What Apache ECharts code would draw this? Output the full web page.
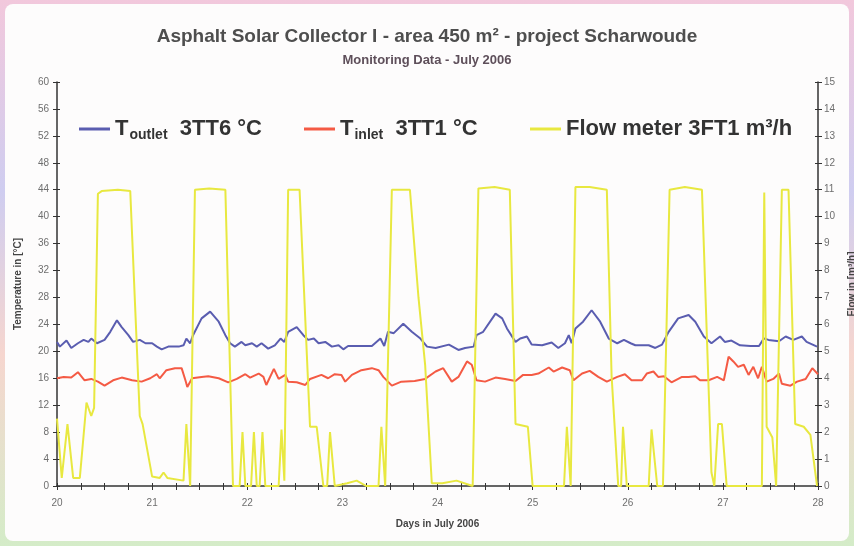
<!DOCTYPE html>
<html>
<head>
<meta charset="utf-8">
<title>Asphalt Solar Collector</title>
<script src="https://cdn.jsdelivr.net/npm/echarts@6/dist/echarts.min.js"></script>
<style>
  html, body { margin: 0; padding: 0; }
  body {
    width: 854px; height: 546px; overflow: hidden;
    background: linear-gradient(180deg, #f2c8dc 0%, #cfcdf0 35%, #f6d6cf 65%, #d4ecc8 100%);
  }
  #chart { width: 854px; height: 546px; }
</style>
</head>
<body>
<div id="chart"></div>
<script>
// legend labels (T with subscript is built in the formatter)
var seriesNames = ['T outlet 3TT6 °C', 'T inlet 3TT1 °C', 'Flow meter 3FT1 m³/h'];

// [day in July, °C]  - outlet temperature 3TT6
var tOutlet = [
  [20.00,21.4],[20.03,20.7],[20.10,21.6],[20.15,20.5],[20.22,21.2],[20.28,21.7],[20.33,21.4],[20.36,21.9],
  [20.42,21.2],[20.50,21.7],[20.56,22.9],[20.63,24.6],[20.68,23.6],[20.75,22.4],[20.80,21.4],[20.87,21.7],
  [20.93,21.2],[21.00,21.2],[21.05,20.7],[21.10,20.3],[21.17,20.7],[21.28,20.7],[21.33,20.9],[21.36,21.9],
  [21.40,21.2],[21.43,22.4],[21.52,24.9],[21.61,25.9],[21.70,24.4],[21.77,22.4],[21.82,21.2],[21.87,20.7],
  [21.94,21.4],[21.98,20.9],[22.05,21.2],[22.10,20.7],[22.15,21.2],[22.22,20.4],[22.29,20.9],[22.35,21.9],
  [22.39,21.4],[22.43,22.9],[22.52,23.6],[22.59,22.4],[22.64,21.7],[22.70,21.9],[22.75,21.2],[22.82,21.4],
  [22.89,20.7],[22.96,20.9],[23.01,20.3],[23.06,20.8],[23.17,20.8],[23.31,20.8],[23.40,21.9],[23.44,20.8],
  [23.48,22.9],[23.54,22.7],[23.64,24.1],[23.73,22.9],[23.82,21.9],[23.89,20.7],[23.98,20.5],[24.12,21.0],
  [24.22,20.2],[24.29,20.5],[24.38,20.7],[24.41,22.4],[24.48,22.9],[24.61,25.6],[24.68,24.9],[24.73,23.4],
  [24.82,21.4],[24.87,21.9],[24.94,22.2],[24.99,21.0],[25.10,20.9],[25.20,21.3],[25.27,20.5],[25.34,21.2],
  [25.38,22.4],[25.41,21.2],[25.45,23.4],[25.53,24.4],[25.62,26.1],[25.71,24.4],[25.80,21.9],[25.89,21.2],
  [25.96,21.7],[26.03,21.2],[26.08,20.9],[26.22,20.9],[26.29,20.5],[26.36,21.0],[26.43,22.9],[26.53,24.9],
  [26.64,25.4],[26.71,24.4],[26.80,22.2],[26.88,21.2],[26.97,22.2],[27.02,21.4],[27.09,21.6],[27.18,20.9],
  [27.29,20.8],[27.38,20.8],[27.43,21.9],[27.48,21.7],[27.59,21.5],[27.66,22.2],[27.74,21.7],[27.83,22.2],
  [27.88,21.4],[27.99,20.7]
];

// [day in July, °C]  - inlet temperature 3TT1
var tInlet = [
  [20.00,16.0],[20.07,16.2],[20.15,16.1],[20.22,16.9],[20.29,15.7],[20.36,15.9],[20.43,15.5],[20.50,14.9],
  [20.59,15.7],[20.68,16.1],[20.79,15.7],[20.89,15.5],[20.98,16.0],[21.05,16.6],[21.08,16.0],[21.15,17.2],
  [21.24,17.5],[21.31,17.5],[21.35,15.7],[21.37,14.7],[21.42,16.0],[21.52,16.2],[21.59,16.3],[21.70,16.0],
  [21.80,15.4],[21.89,15.9],[21.98,16.6],[22.03,16.1],[22.12,16.7],[22.17,16.2],[22.20,15.0],[22.28,17.4],
  [22.33,15.9],[22.40,16.5],[22.43,15.5],[22.52,15.4],[22.61,15.0],[22.66,15.9],[22.78,16.5],[22.85,16.0],
  [22.92,16.6],[22.99,16.5],[23.03,15.5],[23.10,16.5],[23.20,17.2],[23.31,17.5],[23.38,17.2],[23.43,16.2],
  [23.52,14.9],[23.62,15.5],[23.76,15.6],[23.87,15.9],[23.98,17.0],[24.06,17.5],[24.15,15.5],[24.22,16.2],
  [24.31,18.5],[24.36,18.0],[24.41,15.7],[24.50,15.5],[24.61,16.1],[24.71,15.9],[24.82,15.6],[24.90,16.5],
  [24.99,16.5],[25.06,16.7],[25.17,17.6],[25.22,17.0],[25.31,17.6],[25.39,17.2],[25.43,15.7],[25.52,16.7],
  [25.60,17.1],[25.69,16.2],[25.78,15.5],[25.89,16.2],[25.97,16.6],[26.04,15.7],[26.15,15.7],[26.20,16.7],
  [26.27,17.0],[26.32,16.2],[26.38,16.3],[26.46,15.4],[26.57,16.2],[26.64,16.2],[26.71,16.3],[26.76,15.7],
  [26.85,15.7],[26.94,16.2],[27.01,15.7],[27.06,19.2],[27.11,18.5],[27.16,17.7],[27.22,18.0],[27.27,16.5],
  [27.32,17.7],[27.37,16.0],[27.41,17.7],[27.46,15.5],[27.53,15.9],[27.59,16.7],[27.62,15.2],[27.71,14.9],
  [27.78,15.5],[27.87,15.9],[27.94,17.5],[28.00,16.6]
];

// [day in July, m³/h]  - flow meter 3FT1
var flow = [
  [20.00,2.5],[20.05,0.3],[20.11,2.3],[20.17,0.3],[20.24,0.3],[20.31,3.1],[20.36,2.6],[20.39,2.9],
  [20.43,10.85],[20.47,10.95],[20.64,11.0],[20.77,10.95],[20.87,2.6],[20.90,2.3],[21.00,0.35],[21.08,0.3],
  [21.12,0.5],[21.16,0.3],[21.33,0.2],[21.36,2.3],[21.40,0],[21.45,11.0],[21.60,11.05],[21.77,11.0],
  [21.85,0],[21.92,0],[21.95,2.0],[21.98,0],[22.04,0],[22.07,2.0],[22.10,0],[22.13,0],[22.16,2.0],
  [22.19,0],[22.33,0],[22.36,2.1],[22.39,0.2],[22.43,11.0],[22.55,11.0],[22.66,2.2],[22.73,2.2],
  [22.80,0],[22.84,0],[22.87,2.0],[22.92,0],[23.05,0.1],[23.15,0.2],[23.25,0],[23.38,0],[23.41,2.2],
  [23.45,0],[23.52,11.0],[23.71,11.0],[23.80,7.0],[23.87,4.5],[23.94,0.1],[24.05,0.1],[24.20,0.2],
  [24.37,0],[24.43,11.05],[24.60,11.1],[24.76,11.0],[24.82,2.3],[24.95,2.2],[25.00,0],[25.33,0],
  [25.36,2.2],[25.40,0],[25.45,11.1],[25.60,11.1],[25.78,11.0],[25.83,4.1],[25.90,0],[25.93,0],
  [25.95,2.2],[25.99,0],[26.22,0],[26.25,2.1],[26.31,0],[26.37,0],[26.44,11.0],[26.60,11.1],
  [26.78,11.0],[26.88,0.5],[26.91,0],[26.95,2.3],[26.99,2.3],[27.04,0],[27.41,0],[27.435,10.9],
  [27.46,2.2],[27.52,1.8],[27.56,0],[27.58,0],[27.62,11.0],[27.69,11.0],[27.76,2.3],[27.85,2.2],
  [27.92,1.9],[27.99,0]
];

var lineColors = ['#5a5db0', '#f45a44', '#e8e840'];
var legendLeft = [79, 304, 530];
var labelStyle = { color: '#6e6e6e', fontSize: 10, fontFamily: 'Liberation Sans' };
var nameStyle = { color: '#444', fontSize: 10, fontWeight: 'bold', fontFamily: 'Liberation Sans' };
var tickStyle = { color: '#333', width: 1 };

var chart = echarts.init(document.getElementById('chart'), null, { renderer: 'canvas' });

// one legend per item so each sits at its own column like the original
function makeLegend(i) {
  return {
    left: legendLeft[i], top: 118, padding: 0,
    icon: 'rect', itemWidth: 31, itemHeight: 3,
    data: [seriesNames[i]],
    formatter: function (name) {
      if (name === seriesNames[0]) return '{m|T}{s|outlet}{m|  3TT6 °C}';
      if (name === seriesNames[1]) return '{m|T}{s|inlet}{m|  3TT1 °C}';
      return '{m|Flow meter 3FT1 m³/h}';
    },
    textStyle: {
      rich: {
        m: { fontSize: 22, fontWeight: 'bold', color: '#333', fontFamily: 'Liberation Sans' },
        s: { fontSize: 14, fontWeight: 'bold', color: '#333', fontFamily: 'Liberation Sans', padding: [12, 0, 0, 1] }
      }
    }
  };
}

var option = {
  animation: false,
  backgroundColor: 'transparent',
  graphic: [{
    type: 'rect', z: -10, silent: true,
    shape: { x: 5, y: 4, width: 844, height: 537, r: 8 },
    style: { fill: '#fdfcfc' }
  }],
  title: [
    {
      text: 'Asphalt Solar Collector I - area 450 m² - project Scharwoude',
      left: 'center', top: 22,
      textStyle: { fontSize: 19, fontWeight: 'bold', color: '#4e4e4e', fontFamily: 'Liberation Sans' }
    },
    {
      text: 'Monitoring Data - July 2006',
      left: 'center', top: 49,
      textStyle: { fontSize: 13, fontWeight: 'bold', color: '#5e4f5a', fontFamily: 'Liberation Sans' }
    }
  ],
  legend: [makeLegend(0), makeLegend(1), makeLegend(2)],
  grid: { left: 57, right: 36, top: 82, bottom: 60, outerBoundsMode: 'none', containLabel: false },
  xAxis: [
    {
      type: 'value', min: 20, max: 28, interval: 0.25,
      name: 'Days in July 2006', nameLocation: 'middle', nameGap: 33, nameTextStyle: nameStyle,
      axisLine: { lineStyle: { color: '#333', width: 1.5 } },
      axisTick: { show: true, length: 4, lineStyle: tickStyle },
      axisLabel: Object.assign({ margin: 12, formatter: function (v) { return Number.isInteger(v) ? v : ''; } }, labelStyle),
      splitLine: { show: false }
    },
    {
      type: 'value', min: 20, max: 28, interval: 0.25, position: 'bottom',
      axisLine: { show: false },
      axisTick: { show: true, inside: true, length: 3, lineStyle: tickStyle },
      axisLabel: { show: false }, splitLine: { show: false }
    }
  ],
  yAxis: [
    {
      type: 'value', min: 0, max: 60, interval: 4, position: 'left',
      name: 'Temperature in [°C]', nameLocation: 'middle', nameGap: 34, nameRotate: 90, nameTextStyle: nameStyle,
      axisLine: { show: true, lineStyle: { color: '#333', width: 1.5 } },
      axisTick: { show: true, length: 4, lineStyle: tickStyle },
      axisLabel: Object.assign({ margin: 8 }, labelStyle),
      splitLine: { show: false }
    },
    {
      type: 'value', min: 0, max: 15, interval: 1, position: 'right',
      name: 'Flow in [m³/h]', nameLocation: 'middle', nameGap: 29, nameRotate: 90, nameTextStyle: nameStyle,
      axisLine: { show: true, lineStyle: { color: '#333', width: 1.5 } },
      axisTick: { show: true, length: 4, lineStyle: tickStyle },
      axisLabel: Object.assign({ margin: 6 }, labelStyle),
      splitLine: { show: false }
    },
    {
      type: 'value', min: 0, max: 60, interval: 4, position: 'left',
      axisLine: { show: false },
      axisTick: { show: true, inside: true, length: 3, lineStyle: tickStyle },
      axisLabel: { show: false }, splitLine: { show: false }
    },
    {
      type: 'value', min: 0, max: 15, interval: 1, position: 'right',
      axisLine: { show: false },
      axisTick: { show: true, inside: true, length: 3, lineStyle: tickStyle },
      axisLabel: { show: false }, splitLine: { show: false }
    }
  ],
  series: [
    {
      name: seriesNames[0], type: 'line', yAxisIndex: 0, data: tOutlet,
      showSymbol: false, color: lineColors[0], lineStyle: { width: 2 }
    },
    {
      name: seriesNames[1], type: 'line', yAxisIndex: 0, data: tInlet,
      showSymbol: false, color: lineColors[1], lineStyle: { width: 2 }
    },
    {
      name: seriesNames[2], type: 'line', yAxisIndex: 1, data: flow,
      showSymbol: false, color: lineColors[2], lineStyle: { width: 2 }
    }
  ]
};

chart.setOption(option);
</script>
</body>
</html>
